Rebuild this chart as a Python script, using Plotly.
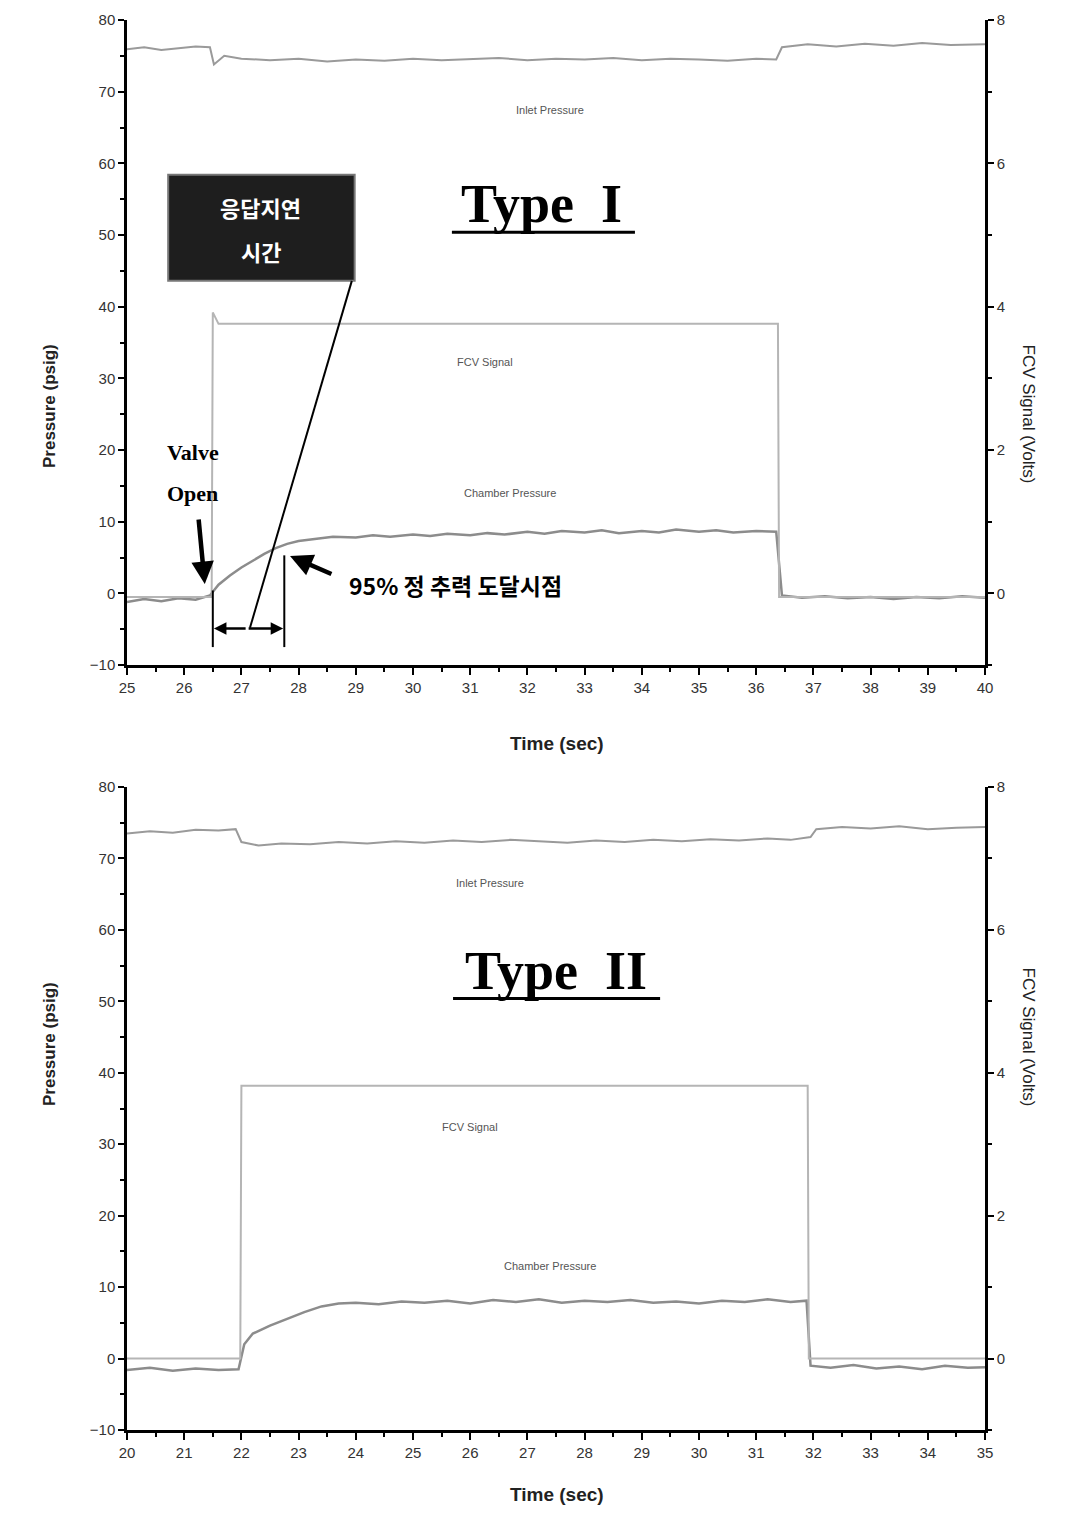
import plotly.graph_objects as go

# ---------------- Data: Type I (top) ----------------
t1_inlet = [25.0, 25.3, 25.6, 25.9, 26.2, 26.45, 26.52, 26.7, 27.0, 27.5, 28.0, 28.5, 29.0, 29.5,
            30.0, 30.5, 31.0, 31.5, 32.0, 32.5, 33.0, 33.5, 34.0, 34.5, 35.0, 35.5, 36.0, 36.35,
            36.45, 36.9, 37.4, 37.9, 38.4, 38.9, 39.4, 40.0]
p1_inlet = [75.9, 76.2, 75.8, 76.1, 76.3, 76.2, 73.8, 75.0, 74.6, 74.4, 74.6, 74.2, 74.5, 74.3,
            74.6, 74.4, 74.5, 74.7, 74.4, 74.6, 74.5, 74.7, 74.4, 74.6, 74.5, 74.3, 74.6, 74.5,
            76.2, 76.6, 76.3, 76.7, 76.4, 76.8, 76.5, 76.6]

t1_fcv = [25.0, 26.48, 26.5, 26.6, 36.38, 36.4, 40.0]
v1_fcv = [-0.05, -0.05, 3.92, 3.76, 3.76, -0.05, -0.05]

t1_ch = [25.0, 25.3, 25.6, 25.9, 26.2, 26.45, 26.6, 26.8, 27.0, 27.2, 27.4, 27.6, 27.8, 28.0,
         28.3, 28.6, 29.0, 29.3, 29.6, 30.0, 30.3, 30.6, 31.0, 31.3, 31.6, 32.0, 32.3, 32.6,
         33.0, 33.3, 33.6, 34.0, 34.3, 34.6, 35.0, 35.3, 35.6, 36.0, 36.35, 36.45, 36.8, 37.2,
         37.6, 38.0, 38.4, 38.8, 39.2, 39.6, 40.0]
p1_ch = [-1.2, -0.8, -1.1, -0.7, -0.9, -0.3, 1.2, 2.5, 3.6, 4.6, 5.5, 6.3, 6.9, 7.3,
         7.6, 7.9, 7.8, 8.1, 7.9, 8.2, 8.0, 8.3, 8.1, 8.4, 8.2, 8.6, 8.3, 8.7,
         8.5, 8.8, 8.4, 8.7, 8.5, 8.9, 8.6, 8.8, 8.5, 8.7, 8.6, -0.3, -0.6, -0.4,
         -0.7, -0.5, -0.8, -0.5, -0.7, -0.4, -0.6]

# ---------------- Data: Type II (bottom) ----------------
t2_inlet = [20.0, 20.4, 20.8, 21.2, 21.6, 21.9, 22.0, 22.3, 22.7, 23.2, 23.7, 24.2, 24.7, 25.2,
            25.7, 26.2, 26.7, 27.2, 27.7, 28.2, 28.7, 29.2, 29.7, 30.2, 30.7, 31.2, 31.6, 31.95,
            32.05, 32.5, 33.0, 33.5, 34.0, 34.5, 35.0]
p2_inlet = [73.5, 73.8, 73.6, 74.0, 73.9, 74.1, 72.3, 71.8, 72.1, 72.0, 72.3, 72.1, 72.4, 72.2,
            72.5, 72.3, 72.6, 72.4, 72.2, 72.5, 72.3, 72.6, 72.4, 72.7, 72.5, 72.8, 72.6, 73.0,
            74.1, 74.4, 74.2, 74.5, 74.1, 74.3, 74.4]

t2_fcv = [20.0, 21.98, 22.0, 31.9, 31.92, 35.0]
v2_fcv = [0.0, 0.0, 3.82, 3.82, 0.0, 0.0]

t2_ch = [20.0, 20.4, 20.8, 21.2, 21.6, 21.95, 22.05, 22.2, 22.5, 22.8, 23.1, 23.4, 23.7, 24.0,
         24.4, 24.8, 25.2, 25.6, 26.0, 26.4, 26.8, 27.2, 27.6, 28.0, 28.4, 28.8, 29.2, 29.6,
         30.0, 30.4, 30.8, 31.2, 31.6, 31.88, 31.95, 32.3, 32.7, 33.1, 33.5, 33.9, 34.3, 34.7, 35.0]
p2_ch = [-1.6, -1.3, -1.7, -1.4, -1.6, -1.5, 2.0, 3.5, 4.6, 5.6, 6.5, 7.3, 7.7, 7.8,
         7.6, 8.0, 7.8, 8.1, 7.7, 8.2, 7.9, 8.3, 7.8, 8.1, 7.9, 8.2, 7.8, 8.0,
         7.7, 8.1, 7.9, 8.3, 7.9, 8.1, -1.0, -1.3, -0.9, -1.4, -1.1, -1.5, -1.0, -1.3, -1.2]

x1_range = [25, 40]
x2_range = [20, 35]
p_range = [-10, 80]
v_range = [-1, 8]

# ---------------- Figure ----------------
fig = go.Figure()
gray_in = "#9a9a9a"
gray_fcv = "#b5b5b5"
gray_ch = "#8c8c8c"

fig.add_trace(go.Scatter(x=t1_inlet, y=p1_inlet, mode="lines", line=dict(color=gray_in, width=2), xaxis="x", yaxis="y"))
fig.add_trace(go.Scatter(x=t1_ch, y=p1_ch, mode="lines", line=dict(color=gray_ch, width=2.5), xaxis="x", yaxis="y"))
fig.add_trace(go.Scatter(x=t1_fcv, y=v1_fcv, mode="lines", line=dict(color=gray_fcv, width=2), xaxis="x", yaxis="y2"))

fig.add_trace(go.Scatter(x=t2_inlet, y=p2_inlet, mode="lines", line=dict(color=gray_in, width=2), xaxis="x2", yaxis="y3"))
fig.add_trace(go.Scatter(x=t2_ch, y=p2_ch, mode="lines", line=dict(color=gray_ch, width=2.5), xaxis="x2", yaxis="y3"))
fig.add_trace(go.Scatter(x=t2_fcv, y=v2_fcv, mode="lines", line=dict(color=gray_fcv, width=2), xaxis="x2", yaxis="y4"))

W, H = 1080, 1524
OFF = 8  # page body margin


def px(x):
    return (x - OFF) / W


def py(y):
    return 1 - (y - OFF) / H


xdom = [px(127), px(985)]
top_dom = [py(665), py(20)]
bot_dom = [py(1430), py(787)]

tickfont = dict(family="Liberation Sans", size=15, color="#333")
axline = dict(showline=True, linecolor="black", linewidth=2.5, showgrid=False, zeroline=False,
              automargin=False)


def xaxis_bottom(rng, anchor):
    return dict(domain=xdom, range=rng, anchor=anchor, dtick=1, ticks="outside", ticklen=7,
                tickcolor="black", tickwidth=1.5, tickfont=tickfont,
                minor=dict(dtick=0.5, ticks="outside", ticklen=4, tickcolor="black"), **axline)


def xaxis_top(rng, overlay, anchor):
    return dict(range=rng, overlaying=overlay, anchor=anchor, side="top", dtick=1, ticks="inside",
                ticklen=7, tickcolor="black", tickwidth=1.5, showticklabels=False,
                minor=dict(dtick=0.5, ticks="inside", ticklen=4, tickcolor="black"), **axline)


def yaxis_left(dom, anchor):
    return dict(domain=dom, range=p_range, anchor=anchor, dtick=10, ticks="outside", ticklen=6,
                tickcolor="black", tickwidth=1.5, tickfont=tickfont,
                minor=dict(dtick=5, ticks="outside", ticklen=4, tickcolor="black"), **axline)


def yaxis_right(overlay, anchor):
    return dict(range=v_range, overlaying=overlay, anchor=anchor, side="right", tick0=0, dtick=2,
                ticks="outside", ticklen=6, tickcolor="black", tickwidth=1.5, tickfont=tickfont,
                minor=dict(dtick=1, ticks="outside", ticklen=4, tickcolor="black"), **axline)


fig.update_layout(
    width=W, height=H, showlegend=False,
    paper_bgcolor="white", plot_bgcolor="white",
    margin=dict(l=0, r=0, t=0, b=0, autoexpand=False),
    xaxis=xaxis_bottom(x1_range, "y"),
    xaxis3=xaxis_top(x1_range, "x", "y"),
    yaxis=yaxis_left(top_dom, "x"),
    yaxis2=yaxis_right("y", "x"),
    xaxis2=xaxis_bottom(x2_range, "y3"),
    xaxis4=xaxis_top(x2_range, "x2", "y3"),
    yaxis3=yaxis_left(bot_dom, "x2"),
    yaxis4=yaxis_right("y3", "x2"),
)

ann = []
small = dict(family="Liberation Sans", size=11, color="#555")
# curve labels top
ann.append(dict(x=32.4, y=67.4, xref="x", yref="y", text="Inlet Pressure", showarrow=False, font=small))
ann.append(dict(x=31.26, y=32.3, xref="x", yref="y", text="FCV Signal", showarrow=False, font=small))
ann.append(dict(x=31.7, y=14.0, xref="x", yref="y", text="Chamber Pressure", showarrow=False, font=small))
# curve labels bottom
ann.append(dict(x=26.35, y=66.6, xref="x2", yref="y3", text="Inlet Pressure", showarrow=False, font=small))
ann.append(dict(x=26.0, y=32.4, xref="x2", yref="y3", text="FCV Signal", showarrow=False, font=small))
ann.append(dict(x=27.4, y=12.9, xref="x2", yref="y3", text="Chamber Pressure", showarrow=False, font=small))

# Type labels
typefont = dict(family="Liberation Serif", size=54, color="black")
ann.append(dict(x=32.25, y=54.3, xref="x", yref="y", text="<b>Type  I</b>", showarrow=False, font=typefont))
ann.append(dict(x=27.5, y=54.3, xref="x2", yref="y3", text="<b>Type  II</b>", showarrow=False, font=typefont))

# Response delay box (rectangle shape + two text lines)
boxfont = dict(family="Noto Sans CJK KR", size=22, color="white")
ann.append(dict(x=27.34, y=53.9, xref="x", yref="y", text="<b>응답지연</b>", showarrow=False, font=boxfont))
ann.append(dict(x=27.34, y=47.8, xref="x", yref="y", text="<b>시간</b>", showarrow=False, font=boxfont))

# Valve Open
vfont = dict(family="Liberation Serif", size=22, color="black")
ann.append(dict(x=25.67, y=19.6, xref="x", yref="y", xanchor="left", text="<b>Valve</b>", showarrow=False, font=vfont))
ann.append(dict(x=25.67, y=14.0, xref="x", yref="y", xanchor="left", text="<b>Open</b>", showarrow=False, font=vfont))
ann.append(dict(x=26.36, y=1.3, ax=26.25, ay=10.5, xref="x", yref="y", axref="x", ayref="y",
                showarrow=True, arrowhead=2, arrowsize=1, arrowwidth=4.5, arrowcolor="black", text=""))

# 95% label
ann.append(dict(x=28.85, y=1.2, xref="x", yref="y", xanchor="left", text="<b>95% 정 추력 도달시점</b>",
                showarrow=False, font=dict(family="Noto Sans CJK KR", size=23, color="black")))
ann.append(dict(x=27.85, y=5.2, ax=28.6, ay=2.6, xref="x", yref="y", axref="x", ayref="y",
                showarrow=True, arrowhead=2, arrowsize=1, arrowwidth=4.5, arrowcolor="black", text=""))

# dimension arrows
ann.append(dict(x=26.52, y=-4.9, ax=27.1, ay=-4.9, xref="x", yref="y", axref="x", ayref="y",
                showarrow=True, arrowhead=2, arrowsize=1, arrowwidth=2.5, arrowcolor="black", text=""))
ann.append(dict(x=27.73, y=-4.9, ax=27.1, ay=-4.9, xref="x", yref="y", axref="x", ayref="y",
                showarrow=True, arrowhead=2, arrowsize=1, arrowwidth=2.5, arrowcolor="black", text=""))

# axis titles
tfont = dict(family="Liberation Sans", size=17, color="#222")
for yc in [(20 + 665) / 2, (787 + 1430) / 2]:
    ann.append(dict(x=px(38), y=py(yc), xref="paper", yref="paper", text="<b>Pressure (psig)</b>",
                    textangle=-90, showarrow=False, font=tfont))
    ann.append(dict(x=px(1040), y=py(yc), xref="paper", yref="paper", text="FCV Signal (Volts)",
                    textangle=90, showarrow=False, font=tfont))
for yc in [743, 1507]:
    ann.append(dict(x=px(557), y=py(yc), xref="paper", yref="paper", text="<b>Time (sec)</b>",
                    showarrow=False, font=dict(family="Liberation Sans", size=19, color="#222")))

fig.update_layout(annotations=ann)

shapes = []
# response-delay box
shapes.append(dict(type="rect", xref="x", yref="y", x0=25.72, x1=28.98, y0=43.6, y1=58.4,
                   fillcolor="#1e1e1e", line=dict(color="#777", width=2), layer="below"))
# underlines
shapes.append(dict(type="line", xref="x", yref="y", x0=30.68, x1=33.88, y0=50.4, y1=50.4,
                   line=dict(color="black", width=3)))
shapes.append(dict(type="line", xref="x2", yref="y3", x0=25.7, x1=29.32, y0=50.4, y1=50.4,
                   line=dict(color="black", width=3)))
# leader line from box to dimension
shapes.append(dict(type="line", xref="x", yref="y", x0=28.93, y0=43.6, x1=27.15, y1=-4.8,
                   line=dict(color="black", width=2)))
# dimension extension lines
shapes.append(dict(type="line", xref="x", yref="y", x0=26.5, x1=26.5, y0=0.4, y1=-7.5,
                   line=dict(color="black", width=2)))
shapes.append(dict(type="line", xref="x", yref="y", x0=27.75, x1=27.75, y0=5.3, y1=-7.5,
                   line=dict(color="black", width=2)))
fig.update_layout(shapes=shapes)

fig.write_html("out.html")
